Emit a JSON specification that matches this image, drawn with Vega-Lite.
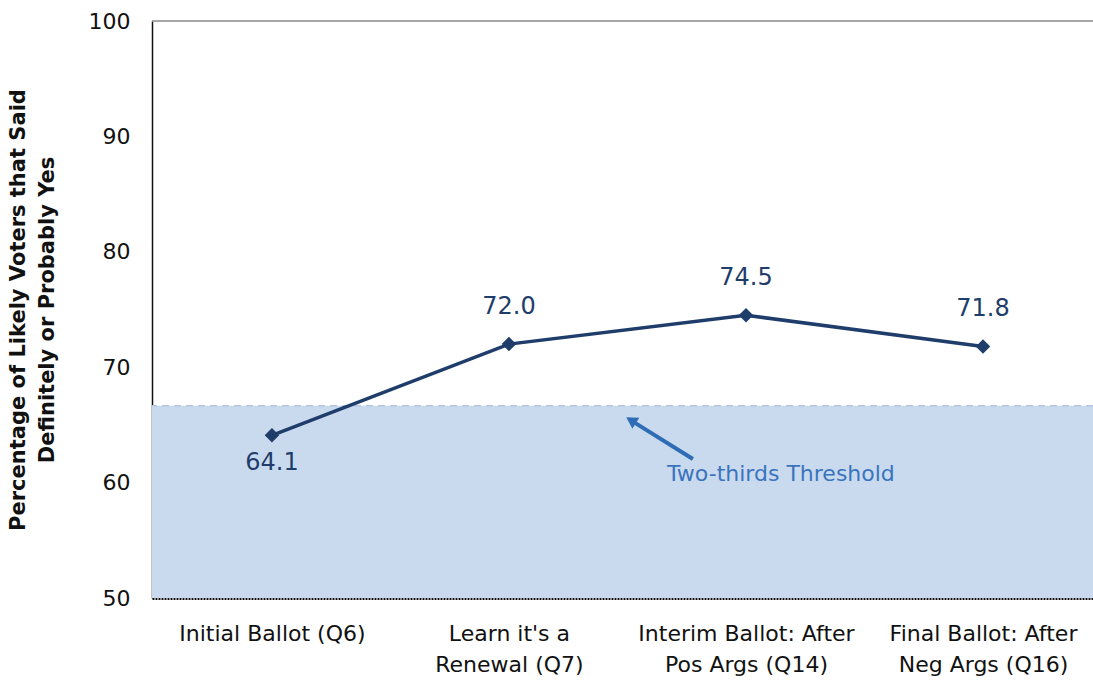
{
  "$schema": "https://vega.github.io/schema/vega-lite/v6.json",
  "autosize": "none",
  "width": 941,
  "height": 577,
  "padding": {"left": 152, "top": 21, "right": 0, "bottom": 84},
  "background": "white",
  "config": {
    "view": {"stroke": null},
    "font": "DejaVu Sans",
    "axis": {"grid": false, "ticks": false}
  },
  "datasets": {
    "main": [
      {"i": 0, "stage": "Initial Ballot (Q6)", "pct": 64.1},
      {"i": 1, "stage": "Learn it's a Renewal (Q7)", "pct": 72.0},
      {"i": 2, "stage": "Interim Ballot: After Pos Args (Q14)", "pct": 74.5},
      {"i": 3, "stage": "Final Ballot: After Neg Args (Q16)", "pct": 71.8}
    ],
    "band": [{"lo": 50, "hi": 66.67}],
    "arrow": [{"x": 1.776, "y": 62.05, "x2": 1.53, "y2": 65.2}],
    "tip": [{"x": 1.515, "y": 65.4}],
    "note": [{"x": 1.667, "y": 60.75, "label": "Two-thirds Threshold"}]
  },
  "layer": [
    {
      "data": {"name": "band"},
      "mark": {"type": "rect", "color": "#c9daef"},
      "encoding": {
        "y": {"field": "lo", "type": "quantitative", "scale": {"domain": [50, 100]}},
        "y2": {"field": "hi"}
      }
    },
    {
      "data": {"name": "band"},
      "mark": {"type": "rule", "color": "#b3c7e3", "strokeDash": [7, 5], "strokeWidth": 1.5},
      "encoding": {"y": {"field": "hi", "type": "quantitative"}}
    },
    {
      "data": {"name": "main"},
      "mark": {"type": "line", "color": "#1f3d6b", "strokeWidth": 3.5},
      "encoding": {
        "x": {
          "field": "i",
          "type": "quantitative",
          "scale": {"domain": [-0.506, 3.464], "nice": false, "zero": false},
          "axis": {
            "title": null,
            "values": [0, 1, 2, 3],
            "labelExpr": "datum.value == 0 ? ['Initial Ballot (Q6)'] : datum.value == 1 ? ['Learn it\\'s a', 'Renewal (Q7)'] : datum.value == 2 ? ['Interim Ballot: After', 'Pos Args (Q14)'] : ['Final Ballot: After', 'Neg Args (Q16)']",
            "labelFontSize": 22,
            "labelColor": "#111",
            "labelPadding": 25,
            "labelBaseline": "top",
            "labelLineHeight": 31,
            "labelLimit": 0,
            "labelFlush": false,
            "labelOverlap": false,
            "domainColor": "#111",
            "domainWidth": 3,
            "domainDash": [2, 1]
          }
        },
        "y": {
          "field": "pct",
          "type": "quantitative",
          "scale": {"domain": [50, 100], "nice": false, "zero": false},
          "axis": {
            "title": ["Percentage of Likely Voters that Said", "Definitely or Probably Yes"],
            "titleFontSize": 21,
            "titleFontWeight": "bold",
            "titleColor": "#111",
            "titleLineHeight": 29,
            "titlePadding": 31,
            "values": [50, 60, 70, 80, 90, 100],
            "labelFontSize": 22,
            "labelColor": "#111",
            "labelPadding": 22,
            "domainColor": "#111",
            "domainWidth": 1.5
          }
        }
      }
    },
    {
      "data": {"name": "main"},
      "mark": {"type": "point", "shape": "diamond", "filled": true, "opacity": 1, "color": "#1f3d6b", "size": 210},
      "encoding": {
        "x": {"field": "i", "type": "quantitative"},
        "y": {"field": "pct", "type": "quantitative"}
      }
    },
    {
      "data": {"name": "main"},
      "transform": [{"filter": "datum.pct >= 65"}],
      "mark": {"type": "text", "color": "#1f3d6b", "fontSize": 24, "baseline": "middle", "dy": -37},
      "encoding": {
        "x": {"field": "i", "type": "quantitative"},
        "y": {"field": "pct", "type": "quantitative"},
        "text": {"field": "pct", "type": "quantitative", "format": ".1f"}
      }
    },
    {
      "data": {"name": "main"},
      "transform": [{"filter": "datum.pct < 65"}],
      "mark": {"type": "text", "color": "#1f3d6b", "fontSize": 24, "baseline": "middle", "dy": 28},
      "encoding": {
        "x": {"field": "i", "type": "quantitative"},
        "y": {"field": "pct", "type": "quantitative"},
        "text": {"field": "pct", "type": "quantitative", "format": ".1f"}
      }
    },
    {
      "data": {"values": [{"top": 100}]},
      "mark": {"type": "rule", "color": "#888", "strokeWidth": 1.5},
      "encoding": {"y": {"field": "top", "type": "quantitative"}}
    },
    {
      "data": {"name": "arrow"},
      "mark": {"type": "rule", "color": "#2e6db5", "strokeWidth": 4},
      "encoding": {
        "x": {"field": "x", "type": "quantitative"},
        "y": {"field": "y", "type": "quantitative"},
        "x2": {"field": "x2"},
        "y2": {"field": "y2"}
      }
    },
    {
      "data": {"name": "tip"},
      "mark": {"type": "point", "shape": "triangle-up", "filled": true, "opacity": 1, "color": "#2e6db5", "size": 170, "angle": 302},
      "encoding": {
        "x": {"field": "x", "type": "quantitative"},
        "y": {"field": "y", "type": "quantitative"}
      }
    },
    {
      "data": {"name": "note"},
      "mark": {"type": "text", "color": "#3a74bd", "fontSize": 22, "align": "left", "baseline": "middle"},
      "encoding": {
        "x": {"field": "x", "type": "quantitative"},
        "y": {"field": "y", "type": "quantitative"},
        "text": {"field": "label"}
      }
    }
  ]
}
